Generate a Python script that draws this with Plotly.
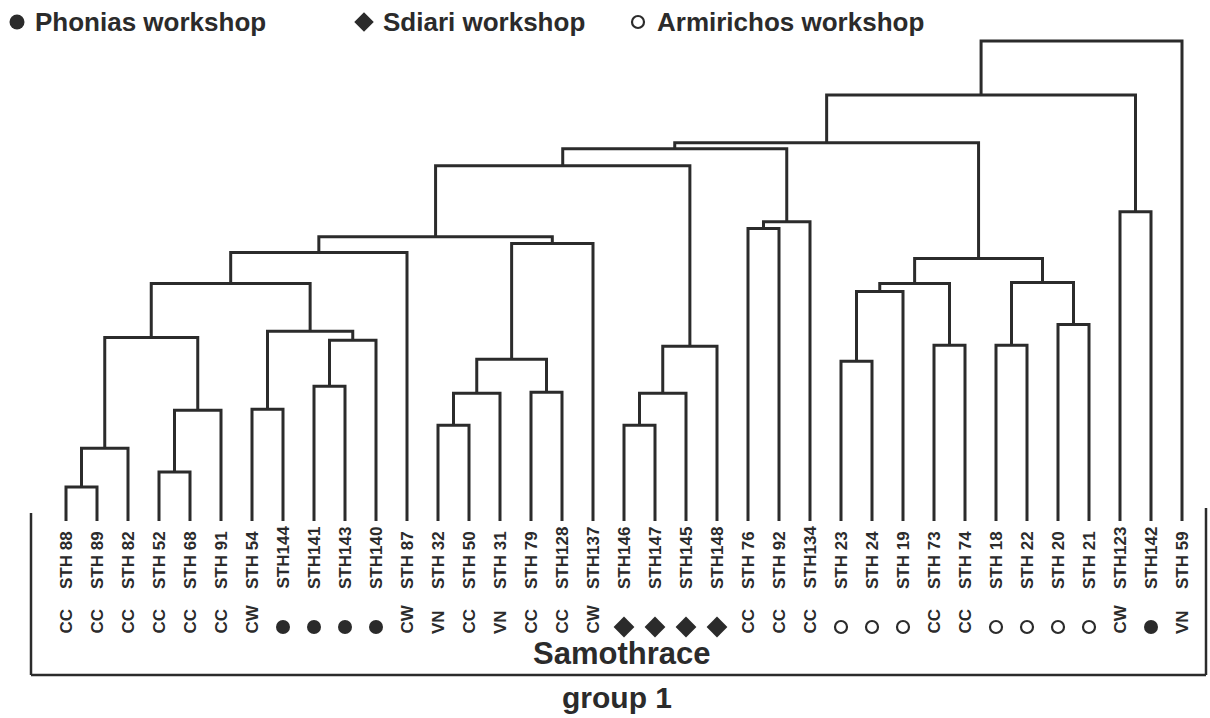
import plotly.graph_objects as go

# ---------------- data ----------------
leaf_labels = [
    "STH 88", "STH 89", "STH 82", "STH 52", "STH 68", "STH 91", "STH 54",
    "STH144", "STH141", "STH143", "STH140", "STH 87", "STH 32", "STH 50",
    "STH 31", "STH 79", "STH128", "STH137", "STH146", "STH147", "STH145",
    "STH148", "STH 76", "STH 92", "STH134", "STH 23", "STH 24", "STH 19",
    "STH 73", "STH 74", "STH 18", "STH 22", "STH 20", "STH 21", "STH123",
    "STH142", "STH 59",
]
# ware / workshop code per leaf: P = Phonias, S = Sdiari, A = Armirichos
leaf_codes = [
    "CC", "CC", "CC", "CC", "CC", "CC", "CW", "P", "P", "P", "P", "CW",
    "VN", "CC", "VN", "CC", "CC", "CW", "S", "S", "S", "S", "CC", "CC",
    "CC", "A", "A", "A", "CC", "CC", "A", "A", "A", "A", "CW", "P", "VN",
]
# agglomeration schedule (leaves 0..36, new clusters numbered from 37)
merge_left = [0, 37, 3, 39, 38, 6, 8, 43, 42, 41, 46, 12, 48, 15, 49, 51,
              47, 18, 54, 55, 53, 22, 58, 57, 25, 61, 28, 62, 30, 32, 65,
              64, 60, 34, 69, 71]
merge_right = [1, 2, 4, 5, 40, 7, 9, 10, 44, 45, 11, 13, 14, 16, 50, 17,
               52, 19, 20, 21, 56, 23, 24, 59, 26, 27, 29, 63, 31, 33, 66,
               67, 68, 35, 70, 36]
merge_height = [1.77, 3.79, 2.55, 5.77, 9.56, 5.82, 7.02, 9.41, 9.88, 12.37,
                13.98, 4.99, 6.65, 6.70, 8.42, 14.45, 14.81, 4.99, 6.65, 9.10,
                18.50, 15.23, 15.59, 19.39, 8.32, 11.95, 9.15, 12.37, 9.15,
                10.24, 12.42, 13.67, 19.70, 16.11, 22.19, 25.00]

legend_items = ["Phonias workshop", "Sdiari workshop", "Armirichos workshop"]
group_title = "Samothrace"
group_sub = "group 1"

# ---------------- layout helpers ----------------
W, H = 1210, 718
X0_PX, STEP_PX = 66.0, 31.0          # leaf 0 position and leaf spacing
BASE_PX, TOP_PX, TOP_VAL = 521.0, 41.0, 25.0

def px_x(px):
    return (px - X0_PX) / STEP_PX

def px_y(py):
    return (BASE_PX - py) / (BASE_PX - TOP_PX) * TOP_VAL

INK = "#2b2b2b"
FONT = "Liberation Sans, Arial, Helvetica, sans-serif"

# ---------------- build dendrogram segments ----------------
n = len(leaf_labels)
pos = {i: float(i) for i in range(n)}
hgt = {i: 0.0 for i in range(n)}
xs, ys = [], []
for k, (a, b, h) in enumerate(zip(merge_left, merge_right, merge_height)):
    xa, xb = pos[a], pos[b]
    xs += [xa, xa, xb, xb, None]
    ys += [hgt[a], h, h, hgt[b], None]
    pos[n + k] = (xa + xb) / 2
    hgt[n + k] = h

fig = go.Figure()
fig.add_trace(go.Scatter(x=xs, y=ys, mode="lines",
                         line=dict(color=INK, width=3), hoverinfo="skip",
                         showlegend=False))

# ---------------- leaf labels ----------------
ann = []
for i, lab in enumerate(leaf_labels):
    ann.append(dict(x=i, y=px_y(591), text="<b>%s</b>" % lab, textangle=-90,
                    showarrow=False, xanchor="center", yanchor="bottom",
                    font=dict(family=FONT, size=17, color=INK)))

marker_style = {
    "P": dict(symbol="circle", size=14, color=INK, line=dict(width=0)),
    "S": dict(symbol="diamond", size=16, color=INK, line=dict(width=0)),
    "A": dict(symbol="circle-open", size=12, color=INK, line=dict(width=2.2, color=INK)),
}
for code, sty in marker_style.items():
    idx = [i for i, c in enumerate(leaf_codes) if c == code]
    fig.add_trace(go.Scatter(x=idx, y=[px_y(627)] * len(idx), mode="markers",
                             marker=sty, hoverinfo="skip", showlegend=False))
for i, c in enumerate(leaf_codes):
    if c not in marker_style:
        ann.append(dict(x=i, y=px_y(636), text="<b>%s</b>" % c, textangle=-90,
                        showarrow=False, xanchor="center", yanchor="bottom",
                        font=dict(family=FONT, size=17, color=INK)))

# ---------------- legend (top) ----------------
leg_marker_px = [17, 364, 638]
leg_text_px = [33, 381, 655]
leg_codes = ["P", "S", "A"]
leg_sizes = {"P": 15, "S": 15, "A": 12}
for mx, tx, code, lab in zip(leg_marker_px, leg_text_px, leg_codes, legend_items):
    sty = dict(marker_style[code])
    sty["size"] = leg_sizes[code]
    fig.add_trace(go.Scatter(x=[px_x(mx)], y=[px_y(22)], mode="markers",
                             marker=sty, hoverinfo="skip", showlegend=False))
    ann.append(dict(x=px_x(tx), y=px_y(22), text="<b>%s</b>" % lab,
                    showarrow=False, xanchor="left", yanchor="middle",
                    font=dict(family=FONT, size=26, color=INK)))

# ---------------- group bracket ----------------
def paper(px, py):
    return px / W, 1 - py / H

shapes = []
for (x1, y1, x2, y2) in [(31, 513, 31, 675), (31, 675, 1206, 675), (1206, 508, 1206, 675)]:
    a = paper(x1, y1)
    b = paper(x2, y2)
    shapes.append(dict(type="line", xref="paper", yref="paper",
                       x0=a[0], y0=a[1], x1=b[0], y1=b[1],
                       line=dict(color=INK, width=2.5)))

ann.append(dict(x=px_x(621), y=px_y(673), text="<b>%s</b>" % group_title,
                showarrow=False, xanchor="center", yanchor="bottom",
                font=dict(family=FONT, size=31, color=INK)))
ann.append(dict(x=px_x(617), y=px_y(697), text="<b>%s</b>" % group_sub,
                showarrow=False, xanchor="center", yanchor="middle",
                font=dict(family=FONT, size=30, color=INK)))

fig.update_layout(
    width=W, height=H, margin=dict(l=0, r=0, t=0, b=0),
    paper_bgcolor="white", plot_bgcolor="white",
    xaxis=dict(range=[px_x(0), px_x(W)], visible=False, fixedrange=True),
    yaxis=dict(range=[px_y(H), px_y(0)], visible=False, fixedrange=True),
    annotations=ann, shapes=shapes, showlegend=False,
)

fig.write_html("out.html", config={"displayModeBar": False},
               post_script="document.body.style.margin='0';document.body.style.overflow='hidden';")
